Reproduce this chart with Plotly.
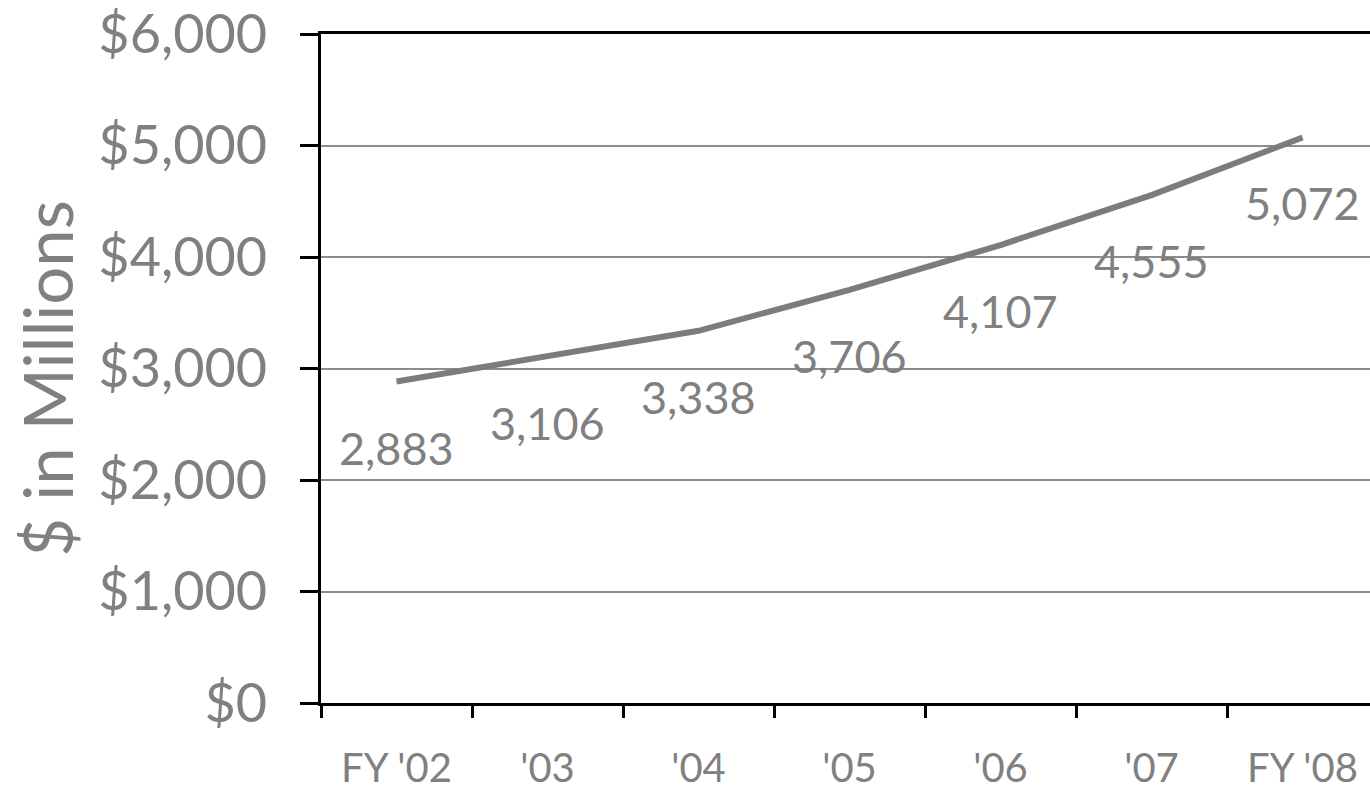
import plotly.graph_objects as go

categories = ["FY '02", "'03", "'04", "'05", "'06", "'07", "FY '08"]
values = [2883, 3106, 3338, 3706, 4107, 4555, 5072]
value_labels = ["2,883", "3,106", "3,338", "3,706", "4,107", "4,555", "5,072"]
y_ticks = [0, 1000, 2000, 3000, 4000, 5000, 6000]
y_tick_labels = ["$0", "$1,000", "$2,000", "$3,000", "$4,000", "$5,000", "$6,000"]

FONT = "Comic Sans MS, Lato, sans-serif"
GRAY = "#808080"

fig = go.Figure()
fig.add_trace(go.Scatter(
    x=categories, y=values, mode="lines",
    line=dict(color="#7c7c7c", width=6),
    hoverinfo="skip", showlegend=False,
))

for cat, v, lab in zip(categories, values, value_labels):
    fig.add_annotation(
        x=cat, y=v, xref="x", yref="y", text=lab, showarrow=False,
        yshift=-66, xanchor="center", yanchor="middle",
        font=dict(family=FONT, size=45, color=GRAY),
    )

fig.add_annotation(
    x=(45 - 320) / 1050, y=0.485, xref="paper", yref="paper",
    text="$ in Millions", textangle=-90, showarrow=False,
    xanchor="center", yanchor="middle",
    font=dict(family=FONT, size=67, color=GRAY),
)

fig.update_layout(
    width=1370, height=790,
    margin=dict(l=321, r=0, t=34, b=87),
    paper_bgcolor="white", plot_bgcolor="white",
    xaxis=dict(
        type="category", categoryorder="array", categoryarray=categories,
        range=[-0.5, -0.5 + 1049 / 151], tickson="boundaries",
        ticks="outside", ticklen=12, tickwidth=3, tickcolor="black",
        showline=True, linecolor="black", linewidth=3, mirror=True,
        showgrid=False, zeroline=False,
        tickfont=dict(family=FONT, size=40, color=GRAY),
        ticklabelstandoff=28,
    ),
    yaxis=dict(
        range=[0, 6000], tickmode="array", tickvals=y_ticks, ticktext=y_tick_labels,
        ticks="outside", ticklen=18, tickwidth=3, tickcolor="black",
        showline=True, linecolor="black", linewidth=3,
        showgrid=True, gridcolor="#8c8c8c", gridwidth=1.5, zeroline=False,
        tickfont=dict(family=FONT, size=54, color=GRAY),
        ticklabelstandoff=22, ticklabeloverflow="allow",
    ),
)

fig.write_html("out.html")
